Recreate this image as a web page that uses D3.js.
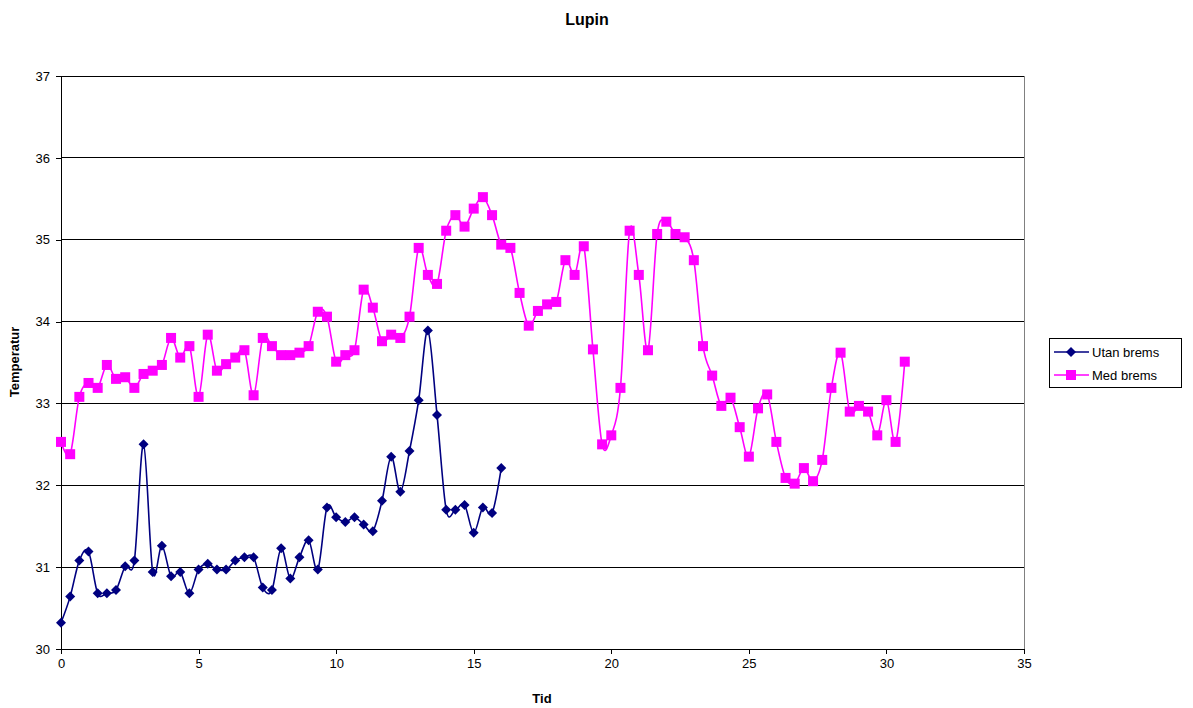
<!DOCTYPE html>
<html><head><meta charset="utf-8">
<script src="https://cdn.jsdelivr.net/npm/d3@7"></script>
<style>body{margin:0;background:#fff;font-family:Arial,"Liberation Sans",sans-serif;}</style>
</head><body>
<svg id="c" width="1193" height="708"></svg>
<script>
const seriesNames = ["Utan brems", "Med brems"];
const xStep = 1/3;
const utanBrems = [30.32,30.64,31.08,31.19,30.68,30.68,30.72,31.01,31.08,32.50,30.94,31.26,30.89,30.94,30.68,30.97,31.04,30.97,30.97,31.08,31.12,31.12,30.75,30.72,31.23,30.86,31.12,31.33,30.97,31.73,31.61,31.55,31.61,31.52,31.44,31.81,32.35,31.92,32.42,33.04,33.89,32.86,31.70,31.70,31.76,31.42,31.73,31.66,32.21];
const medBrems = [32.53,32.38,33.08,33.25,33.19,33.47,33.30,33.32,33.19,33.36,33.40,33.47,33.80,33.56,33.70,33.08,33.84,33.40,33.48,33.56,33.65,33.10,33.80,33.70,33.59,33.59,33.62,33.70,34.12,34.06,33.51,33.59,33.65,34.39,34.17,33.76,33.84,33.80,34.06,34.90,34.57,34.46,35.11,35.30,35.16,35.38,35.52,35.30,34.94,34.90,34.35,33.95,34.13,34.21,34.24,34.75,34.57,34.92,33.66,32.50,32.61,33.19,35.11,34.57,33.65,35.07,35.22,35.07,35.03,34.75,33.70,33.34,32.97,33.07,32.71,32.35,32.94,33.11,32.53,32.09,32.02,32.21,32.05,32.31,33.19,33.62,32.90,32.97,32.90,32.61,33.04,32.53,33.51];
const xTicks = [0,5,10,15,20,25,30,35];
const yTicks = [30,31,32,33,34,35,36,37];

const svg = d3.select("#c");
const L = 61, R = 1024, T = 76, B = 649;
const x = d3.scaleLinear().domain([0,35]).range([L,R]);
const y = d3.scaleLinear().domain([30,37]).range([B,T]);

// gridlines
svg.append("g").selectAll("line").data(yTicks.slice(1)).join("line")
  .attr("x1",L).attr("x2",R).attr("y1",d=>y(d)).attr("y2",d=>y(d))
  .attr("stroke","#000").attr("stroke-width",1).attr("shape-rendering","crispEdges");
// right border
svg.append("line").attr("x1",R).attr("x2",R).attr("y1",T).attr("y2",B)
  .attr("stroke","#808080").attr("shape-rendering","crispEdges");

const xAxis = svg.append("g").attr("transform",`translate(0,${B})`)
  .call(d3.axisBottom(x).tickValues(xTicks).tickFormat(d3.format("d")).tickSizeOuter(0).tickSize(5).tickPadding(5));
const yAxis = svg.append("g").attr("transform",`translate(${L},0)`)
  .call(d3.axisLeft(y).tickValues(yTicks).tickFormat(d3.format("d")).tickSizeOuter(0).tickSize(5).tickPadding(6));
[xAxis,yAxis].forEach(a=>{
  a.selectAll("path,line").attr("stroke","#000").attr("shape-rendering","crispEdges");
  a.selectAll("text").attr("font-family","Arial, 'Liberation Sans', sans-serif").attr("font-size",13).attr("fill","#000");
});

const line = d3.line().x((d,i)=>x(i*xStep)).y(d=>y(d)).curve(d3.curveCatmullRom.alpha(0));
const colors = ["#000080","#FF00FF"];
const data = [utanBrems, medBrems];

data.forEach((s,k)=>{
  svg.append("path").datum(s).attr("d",line).attr("fill","none")
    .attr("stroke",colors[k]).attr("stroke-width",1.6);
});
// markers
svg.append("g").selectAll("path").data(utanBrems).join("path")
  .attr("d", "M0,-5L5,0L0,5L-5,0Z")
  .attr("transform",(d,i)=>`translate(${x(i*xStep)},${y(d)})`)
  .attr("fill",colors[0]);
svg.append("g").selectAll("rect").data(medBrems).join("rect")
  .attr("x",(d,i)=>x(i*xStep)-5).attr("y",d=>y(d)-5).attr("width",10).attr("height",10)
  .attr("fill",colors[1]);

// titles
svg.append("text").attr("x",587).attr("y",25).attr("text-anchor","middle")
  .attr("font-size",16).attr("font-weight","bold").text("Lupin");
svg.append("text").attr("x",542).attr("y",703).attr("text-anchor","middle")
  .attr("font-size",13).attr("font-weight","bold").text("Tid");
svg.append("text").attr("transform","translate(19,362) rotate(-90)").attr("text-anchor","middle")
  .attr("font-size",13).attr("font-weight","bold").text("Temperatur");

// legend
const lg = svg.append("g");
lg.append("rect").attr("x",1049.5).attr("y",338.5).attr("width",132).attr("height",49)
  .attr("fill","#fff").attr("stroke","#000");
seriesNames.forEach((n,k)=>{
  const yy = 352 + k*23;
  lg.append("line").attr("x1",1054).attr("x2",1089).attr("y1",yy).attr("y2",yy)
    .attr("stroke",colors[k]).attr("stroke-width",1.6);
  if(k===0) lg.append("path").attr("d","M0,-5L5,0L0,5L-5,0Z").attr("transform",`translate(1071,${yy})`).attr("fill",colors[0]);
  else lg.append("rect").attr("x",1066).attr("y",yy-5).attr("width",10).attr("height",10).attr("fill",colors[1]);
  lg.append("text").attr("x",1092).attr("y",yy+5).attr("font-size",13).text(n);
});
</script>
</body></html>
